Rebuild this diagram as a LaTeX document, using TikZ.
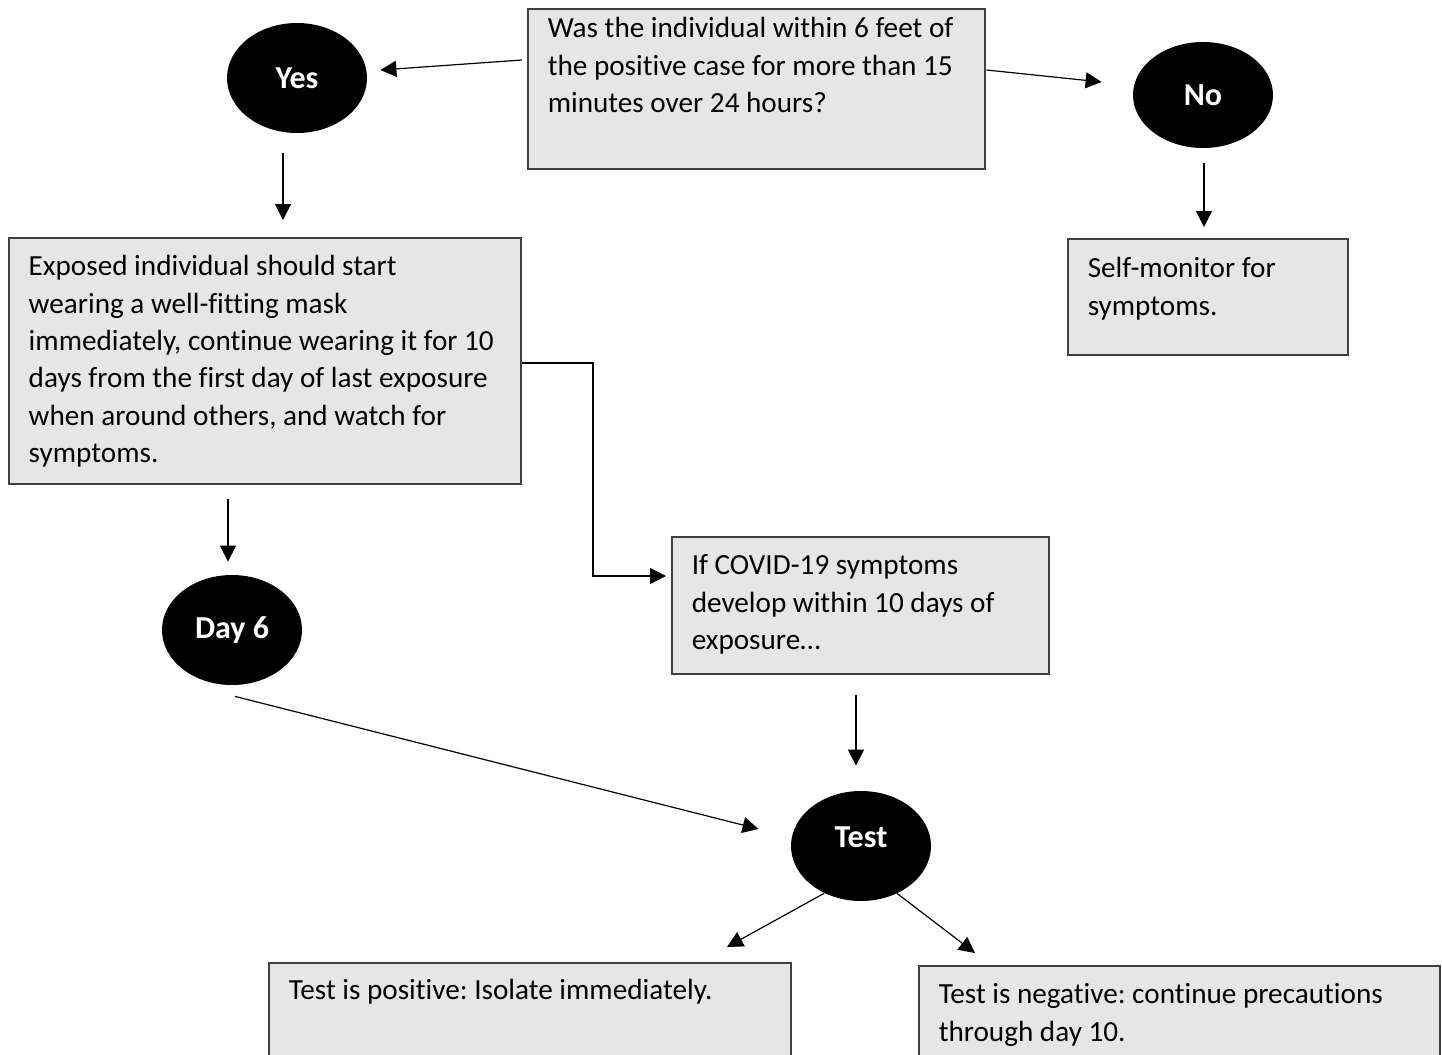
\documentclass[tikz,border=0pt]{standalone}
\usepackage{fontspec}
\setmainfont{Carlito}[Ligatures={NoCommon}]
\usetikzlibrary{calc,shapes.geometric,arrows.meta}

\definecolor{boxgray}{RGB}{231,230,230}
\newcommand{\chartfont}{\fontsize{14.6pt}{18.7pt}\selectfont\frenchspacing}
\newcommand{\answerfont}{\fontsize{16pt}{19pt}\selectfont\bfseries}

\begin{document}
\begin{tikzpicture}[x=0.5pt,y=-0.5pt,
    infobox/.style={rectangle, draw=black!75, line width=0.75pt, fill=boxgray,
        anchor=north west, align=flush left, inner xsep=10pt, inner ysep=0pt, font=\chartfont},
    answer/.style={ellipse, fill=black, text=white, minimum width=70pt,
        minimum height=55pt, inner sep=0pt, font=\answerfont},
    arr/.style={line width=0.6pt, -{Triangle[length=8pt,width=8pt]}}]

    % Fix the page to the size of the reference
    \useasboundingbox (0,0) rectangle (1442,1055);

    % The question at the top
    \node[infobox, text width=208.5pt, text height=14.5pt, text depth=65.5pt] (question) at (527,8)
        {Was the individual within 6 feet of\\the positive case for more than 15\\minutes over 24 hours?};

    % The two answers
    \node[answer] (yes) at (297,78) {Yes};
    \node[answer, minimum height=53pt] (no) at (1203,95) {No};

    % What to do after each answer
    \node[infobox, text width=236pt, text height=19pt, text depth=104pt] (mask) at (8,237)
        {Exposed individual should start\\wearing a well-fitting mask\\immediately, continue wearing it for 10\\days from the first day of last exposure\\when around others, and watch for\\symptoms.};
    \node[infobox, text width=120pt, text height=19.5pt, text depth=38.5pt] (monitor) at (1067,238)
        {Self-monitor for\\symptoms.};

    % Day 6 and the symptom branch
    \node[answer] (day) at (232,630) {Day 6};
    \node[infobox, text width=168.5pt, text height=19pt, text depth=49.5pt] (covid) at (671,536)
        {If COVID-19 symptoms\\develop within 10 days of\\exposure…};

    % The test and its two results
    \node[answer] (test) at (861,846) {\raisebox{9pt}{Test}};
    \node[infobox, text width=241pt, text height=18.5pt, text depth=45pt] (positive) at (268,962)
        {Test is positive: Isolate immediately.};
    \node[infobox, text width=240.5pt, text height=19pt, text depth=45pt] (negative) at (918,965)
        {Test is negative: continue precautions\\through day 10.};

    % Arrows from the question to the answers
    \draw[arr] ($(question.north west)+(-5,52)$) -- ($(yes.east)+(13,-8)$);
    \draw[arr] ($(question.north east)+(1,62)$) -- ($(no.west)+(-31,-13)$);

    % Arrows down from the answers
    \draw[arr] ($(yes.south)+(-14,20)$) -- ($(mask.north west)+(275,-17)$);
    \draw[arr] ($(no.south)+(1,15)$) -- ($(monitor.north west)+(137,-11)$);

    % Elbow to the symptom box
    \draw[arr] ($(mask.north east)+(0,126)$) -| ($(covid.north west)+(-78,40)$)
        -- ($(covid.north west)+(-5,40)$);

    % Arrows to Day 6 and on to the test
    \draw[arr] ($(mask.south west)+(220,14)$) -- ($(day.north)+(-4,-13)$);
    \draw[arr] ($(day.south)+(3,11)$) -- ($(test.west)+(-32,-17)$);
    \draw[arr] ($(covid.south west)+(185,20)$) -- ($(test.north)+(-5,-25)$);

    % Arrows to the two results
    \draw[arr] ($(test.south)+(-37,-8)$) -- ($(positive.north west)+(459,-15)$);
    \draw[arr] ($(test.south)+(36,-8)$) -- ($(negative.north west)+(57,-12)$);

\end{tikzpicture}
\end{document}
